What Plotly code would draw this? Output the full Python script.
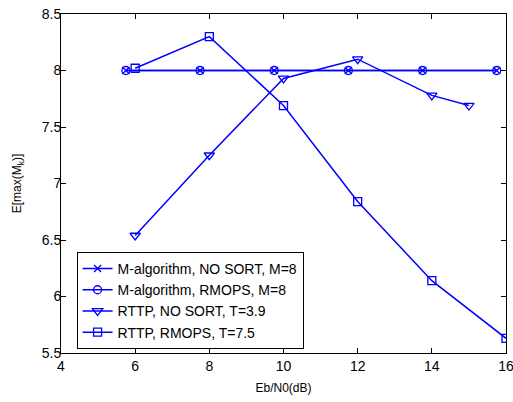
import plotly.graph_objects as go

x_malg = [5.75, 7.75, 9.75, 11.75, 13.75, 15.75]
y_malg_nosort = [8.0, 8.0, 8.0, 8.0, 8.0, 8.0]
y_malg_rmops = [8.0, 8.0, 8.0, 8.0, 8.0, 8.0]
x_rttp_nosort = [6, 8, 10, 12, 14, 15]
y_rttp_nosort = [6.54, 7.25, 7.93, 8.1, 7.78, 7.69]
x_rttp_rmops = [6, 8, 10, 12, 14, 16]
y_rttp_rmops = [8.02, 8.3, 7.69, 6.84, 6.14, 5.63]

names = ["M-algorithm, NO SORT, M=8", "M-algorithm, RMOPS, M=8",
         "RTTP, NO SORT, T=3.9", "RTTP, RMOPS, T=7.5"]

FONT = "Liberation Sans, Arial"
blue = "rgb(0,0,255)"
fig = go.Figure()
series = [
    (x_malg, y_malg_nosort, "x-thin-open", 7),
    (x_malg, y_malg_rmops, "circle-open", 8),
    (x_rttp_nosort, y_rttp_nosort, "triangle-down-open", 9),
    (x_rttp_rmops, y_rttp_rmops, "square-open", 8),
]
for (xs, ys, sym, sz), nm in zip(series, names):
    fig.add_trace(go.Scatter(
        x=xs, y=ys, name=nm, mode="lines+markers",
        line=dict(color=blue, width=1.5),
        marker=dict(symbol=sym, size=sz, color=blue, line=dict(color=blue, width=1.3)),
    ))

axis_common = dict(
    showline=True, linecolor="black", linewidth=1, mirror="ticks",
    ticks="inside", ticklen=5, tickcolor="black", showgrid=False, zeroline=False,
    automargin=False,
    tickfont=dict(family=FONT, size=14, color="black"),
)
fig.update_xaxes(range=[4, 16], tickvals=[4, 6, 8, 10, 12, 14, 16],
                 ticklabeloverflow="allow",
                 title=dict(text="Eb/N0(dB)", font=dict(family=FONT, size=12, color="black"), standoff=10),
                 **axis_common)
fig.update_yaxes(range=[5.5, 8.5], tickvals=[5.5, 6, 6.5, 7, 7.5, 8, 8.5],
                 ticktext=["5.5", "6", "6.5", "7", "7.5", "8", "8.5"],
                 ticklabeloverflow="allow", ticklabelstandoff=-4,
                 title=dict(text="E[max(M<sub>k</sub>)]", font=dict(family=FONT, size=12, color="black"), standoff=17),
                 **axis_common)

fig.update_layout(
    width=513, height=402,
    margin=dict(l=61, r=7, t=14, b=49),
    plot_bgcolor="white", paper_bgcolor="white",
    font=dict(family=FONT, color="black"),
    legend=dict(x=0.035, y=0.012, xanchor="left", yanchor="bottom",
                bordercolor="black", borderwidth=1, bgcolor="white",
                font=dict(family=FONT, size=14, color="black"), tracegroupgap=0,
                itemwidth=30),
    showlegend=True,
)

fig.write_html("out.html", config={"displayModeBar": False},
               post_script="document.body.style.margin='0px';")
